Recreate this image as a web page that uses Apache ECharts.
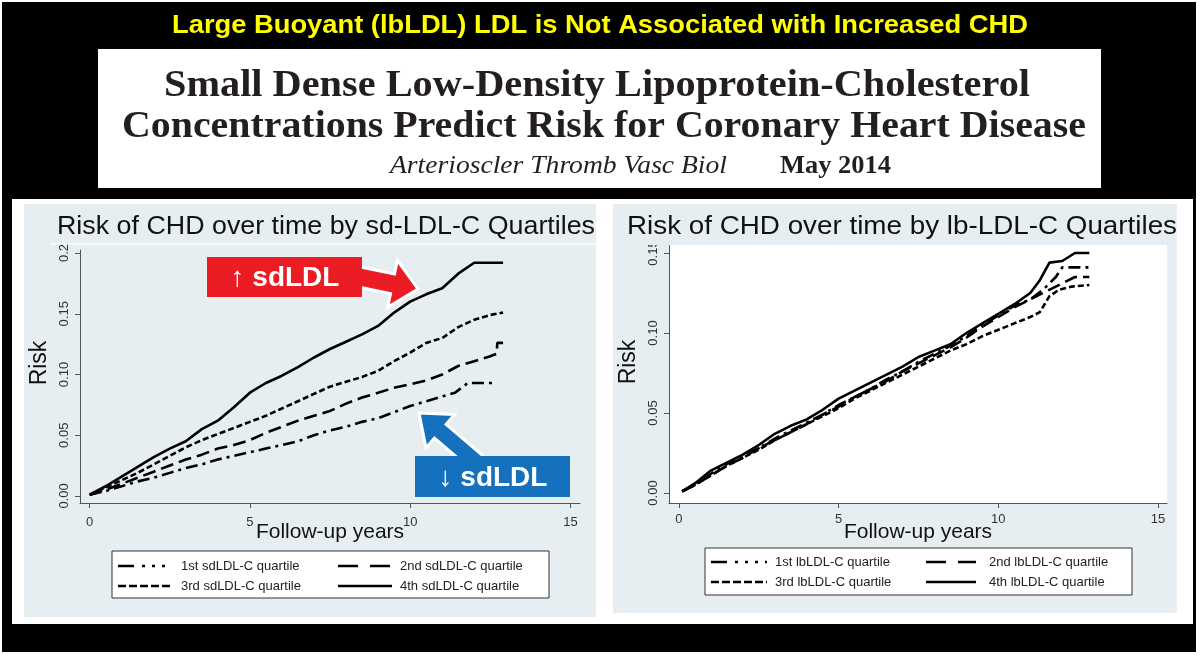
<!DOCTYPE html>
<html>
<head>
<meta charset="utf-8">
<script src="https://cdn.jsdelivr.net/npm/echarts@6/dist/echarts.min.js"></script>
<style>
html,body{margin:0;padding:0;background:#fff;}
#chart{width:1200px;height:657px;}
</style>
</head>
<body>
<div id="chart"></div>
<script>
// ---- data ----
const yearTicks = [0, 5, 10, 15];

const sdRiskTicks = [0, 0.05, 0.1, 0.15, 0.2];
const sdRiskLabels = ['0.00', '0.05', '0.10', '0.15', '0.2'];
const lbRiskTicks = [0, 0.05, 0.1, 0.15];
const lbRiskLabels = ['0.00', '0.05', '0.10', '0.15'];

const sdLegend = ['1st sdLDL-C quartile', '2nd sdLDL-C quartile', '3rd sdLDL-C quartile', '4th sdLDL-C quartile'];
const lbLegend = ['1st lbLDL-C quartile', '2nd lbLDL-C quartile', '3rd lbLDL-C quartile', '4th lbLDL-C quartile'];

// sd-LDL-C quartiles
const sdYears1 = [0, 0.5, 1, 1.5, 2, 2.5, 3, 3.5, 4, 4.5, 5, 5.5, 6, 6.5, 7, 7.5, 8, 8.5, 9, 9.5, 10, 10.5, 11, 11.4, 11.8, 12.6];
const sdRisk1 = [0.001, 0.004, 0.008, 0.012, 0.015, 0.019, 0.023, 0.026, 0.030, 0.033, 0.036, 0.039, 0.042, 0.045, 0.050, 0.054, 0.057, 0.061, 0.064, 0.069, 0.074, 0.078, 0.082, 0.085, 0.093, 0.093];
const sdYears2 = [0, 0.5, 1, 1.5, 2, 2.5, 3, 3.5, 4, 4.5, 5, 5.5, 6, 6.5, 7, 7.5, 8, 8.5, 9, 9.5, 10, 10.5, 11, 11.5, 12, 12.5, 12.7, 12.72, 12.9];
const sdRisk2 = [0.001, 0.005, 0.010, 0.015, 0.020, 0.025, 0.030, 0.034, 0.039, 0.042, 0.046, 0.052, 0.057, 0.062, 0.066, 0.070, 0.076, 0.081, 0.085, 0.089, 0.092, 0.095, 0.100, 0.107, 0.111, 0.115, 0.117, 0.126, 0.126];
const sdYears3 = [0, 0.5, 1, 1.5, 2, 2.5, 3, 3.5, 4, 4.5, 5, 5.5, 6, 6.5, 7, 7.5, 8, 8.5, 9, 9.5, 10, 10.5, 11, 11.5, 12, 12.5, 12.9];
const sdRisk3 = [0.001, 0.007, 0.013, 0.019, 0.026, 0.033, 0.040, 0.046, 0.051, 0.056, 0.061, 0.066, 0.072, 0.078, 0.084, 0.090, 0.094, 0.098, 0.103, 0.111, 0.118, 0.126, 0.130, 0.139, 0.145, 0.149, 0.151];
const sdYears4 = [0, 0.5, 1, 1.5, 2, 2.5, 3, 3.5, 4, 4.5, 5, 5.5, 6, 6.5, 7, 7.5, 8, 8.5, 9, 9.5, 10, 10.5, 11, 11.5, 12, 12.9];
const sdRisk4 = [0.001, 0.008, 0.016, 0.024, 0.032, 0.039, 0.045, 0.055, 0.062, 0.073, 0.085, 0.093, 0.099, 0.106, 0.114, 0.121, 0.127, 0.133, 0.140, 0.151, 0.160, 0.166, 0.171, 0.183, 0.192, 0.192];

// lb-LDL-C quartiles
const lbYears1 = [0.1, 0.5, 1, 1.5, 2, 2.5, 3, 3.5, 4, 4.5, 5, 5.5, 6, 6.5, 7, 7.5, 8, 8.5, 9, 9.5, 10, 10.5, 11, 11.4, 11.8, 12, 12.85];
const lbRisk1 = [0.001, 0.005, 0.012, 0.018, 0.023, 0.028, 0.034, 0.039, 0.044, 0.049, 0.055, 0.060, 0.065, 0.071, 0.076, 0.082, 0.087, 0.092, 0.098, 0.105, 0.111, 0.117, 0.121, 0.127, 0.135, 0.141, 0.141];
const lbYears2 = [0.1, 0.5, 1, 1.5, 2, 2.5, 3, 3.5, 4, 4.5, 5, 5.5, 6, 6.5, 7, 7.5, 8, 8.5, 9, 9.5, 10, 10.5, 11, 11.5, 12, 12.4, 12.85];
const lbRisk2 = [0.001, 0.005, 0.011, 0.017, 0.022, 0.028, 0.033, 0.038, 0.043, 0.049, 0.054, 0.060, 0.065, 0.070, 0.076, 0.081, 0.086, 0.091, 0.097, 0.104, 0.110, 0.116, 0.121, 0.126, 0.131, 0.135, 0.135];
const lbYears3 = [0.1, 0.5, 1, 1.5, 2, 2.5, 3, 3.5, 4, 4.5, 5, 5.5, 6, 6.5, 7, 7.5, 8, 8.5, 9, 9.5, 10, 10.5, 11, 11.3, 11.6, 11.9, 12.3, 12.85];
const lbRisk3 = [0.001, 0.005, 0.011, 0.017, 0.022, 0.027, 0.033, 0.038, 0.043, 0.048, 0.053, 0.059, 0.064, 0.069, 0.074, 0.079, 0.084, 0.089, 0.093, 0.098, 0.102, 0.106, 0.110, 0.113, 0.123, 0.127, 0.129, 0.130];
const lbYears4 = [0.1, 0.5, 1, 1.5, 2, 2.5, 3, 3.5, 4, 4.5, 5, 5.5, 6, 6.5, 7, 7.5, 8, 8.5, 9, 9.5, 10, 10.5, 11, 11.3, 11.6, 12, 12.4, 12.85];
const lbRisk4 = [0.001, 0.006, 0.014, 0.019, 0.024, 0.030, 0.037, 0.042, 0.046, 0.052, 0.059, 0.064, 0.069, 0.074, 0.079, 0.085, 0.089, 0.093, 0.100, 0.106, 0.112, 0.118, 0.125, 0.133, 0.144, 0.145, 0.150, 0.150];

const sans = "'Liberation Sans', Arial, sans-serif";
const serif = "'Liberation Serif', 'Times New Roman', serif";
const panelBg = '#e7eef1';

// dash patterns: 1st dash-dot, 2nd long dash, 3rd short dash, 4th solid
const plotDash = [[12, 5, 3, 5], [13, 6], [6, 3], 'solid'];
const keyDash = [[16, 8, 3, 7, 3, 7, 3, 7], [20, 12], [8, 3], null];

const ctx = document.createElement('canvas').getContext('2d');
function fitScale(text, font, target) {
    ctx.font = font;
    return target / ctx.measureText(text).width;
}
function pairs(xs, ys) {
    return xs.map((x, i) => [x, ys[i]]);
}
function lineSeries(name, xs, ys, idx, dash) {
    return {
        name: name, type: 'line', xAxisIndex: idx, yAxisIndex: idx,
        data: pairs(xs, ys), symbol: 'none', silent: true,
        lineStyle: { color: '#000', width: 2.6, type: dash }
    };
}
function xAxisCfg(idx, min, max, margin) {
    return {
        type: 'value', gridIndex: idx, min: min, max: max,
        axisLine: { show: true, onZero: false, lineStyle: { color: '#555', width: 1 } },
        axisTick: { show: true, length: 5, lineStyle: { color: '#555' }, customValues: yearTicks },
        axisLabel: { customValues: yearTicks, margin: margin, fontSize: 13, color: '#333', fontFamily: sans },
        splitLine: { show: false },
        name: 'Follow-up years', nameLocation: 'middle', nameGap: 19, nameMoveOverlap: false,
        nameTextStyle: { fontSize: 21, color: '#111', fontFamily: sans }
    };
}
function yAxisCfg(idx, min, max, ticks, labels) {
    return {
        type: 'value', gridIndex: idx, min: min, max: max,
        axisLine: { show: true, onZero: false, lineStyle: { color: '#555', width: 1 } },
        axisTick: { show: true, length: 5, lineStyle: { color: '#555' }, customValues: ticks },
        axisLabel: {
            customValues: ticks, rotate: 90, margin: 9, fontSize: 13, color: '#333', fontFamily: sans,
            formatter: v => labels[ticks.findIndex(t => Math.abs(t - v) < 1e-9)]
        },
        splitLine: { show: false }
    };
}
function arrowPts(x1, y1, x2, y2, sw, hw, hl) {
    const dx = x2 - x1, dy = y2 - y1, L = Math.hypot(dx, dy);
    const ux = dx / L, uy = dy / L, nx = -uy, ny = ux;
    const bx = x2 - ux * hl, by = y2 - uy * hl;
    return [[x1 + nx * sw, y1 + ny * sw], [bx + nx * sw, by + ny * sw], [bx + nx * hw, by + ny * hw],
        [x2, y2], [bx - nx * hw, by - ny * hw], [bx - nx * sw, by - ny * sw], [x1 - nx * sw, y1 - ny * sw]];
}
function fitText(text, x, y, size, weight, style, family, color, target, align) {
    const font = style + ' ' + weight + ' ' + size + 'px ' + family;
    return {
        type: 'text', x: x, y: y, z: 120, scaleX: fitScale(text, font, target), silent: true,
        style: { text: text, fontSize: size, fontWeight: weight, fontStyle: style, fontFamily: family,
            fill: color, align: align || 'center', verticalAlign: 'middle' }
    };
}
function keyBox(x1, y1, x2, y2, rows, cols, textX, labels) {
    const out = [{ type: 'rect', z: 120, shape: { x: x1, y: y1, width: x2 - x1, height: y2 - y1 },
        style: { fill: '#fff', stroke: '#333', lineWidth: 1 } }];
    labels.forEach((lab, i) => {
        const r = Math.floor(i / 2), c = i % 2;
        const ls = { stroke: '#000', lineWidth: 2.6 };
        if (keyDash[i]) ls.lineDash = keyDash[i];
        out.push({ type: 'line', z: 121, shape: { x1: cols[c][0], y1: rows[r], x2: cols[c][1], y2: rows[r] }, style: ls });
        out.push({ type: 'text', z: 121, x: textX[c], y: rows[r],
            style: { text: lab, fontSize: 13, fontFamily: sans, fill: '#222', verticalAlign: 'middle' } });
    });
    return out;
}

const chart = echarts.init(document.getElementById('chart'));

const graphics = [
    // frame
    { type: 'rect', z: -20, shape: { x: 2, y: 2, width: 1194, height: 650 }, style: { fill: '#000' } },
    { type: 'rect', z: -19, shape: { x: 98, y: 49, width: 1003, height: 139 }, style: { fill: '#fff' } },
    { type: 'rect', z: -19, shape: { x: 12, y: 199, width: 1181, height: 425 }, style: { fill: '#fff' } },
    { type: 'rect', z: -18, shape: { x: 24, y: 204, width: 572, height: 413 }, style: { fill: panelBg } },
    { type: 'rect', z: -18, shape: { x: 613, y: 204, width: 564, height: 409 }, style: { fill: panelBg } },
    { type: 'line', z: -17, shape: { x1: 50, y1: 244, x2: 596, y2: 244 }, style: { stroke: '#fbfdfd', lineWidth: 1.5 } },
    // mask clipping the top tick label of the right panel
    { type: 'rect', z: 110, shape: { x: 613, y: 204, width: 564, height: 41 }, style: { fill: panelBg } },

    fitText('Large Buoyant (lbLDL) LDL is Not Associated with Increased CHD', 600, 26, 25, 'bold', 'normal', sans, '#ffff00', 856),
    fitText('Small Dense Low-Density Lipoprotein-Cholesterol', 597, 86, 38, 'bold', 'normal', serif, '#231f20', 866),
    fitText('Concentrations Predict Risk for Coronary Heart Disease', 604, 127, 38, 'bold', 'normal', serif, '#231f20', 964),
    fitText('Arterioscler Thromb Vasc Biol', 390, 166, 26, 'normal', 'italic', serif, '#231f20', 337, 'left'),
    fitText('May 2014', 780, 166, 26, 'bold', 'normal', serif, '#231f20', 111, 'left'),

    fitText('Risk of CHD over time by sd-LDL-C Quartiles', 57, 227, 26, 'normal', 'normal', sans, '#111', 538, 'left'),
    fitText('Risk of CHD over time by lb-LDL-C Quartiles', 627, 227, 26, 'normal', 'normal', sans, '#111', 550, 'left'),

    { type: 'text', z: 120, x: 40, y: 363, rotation: Math.PI / 2,
        style: { text: 'Risk', fontSize: 23, fontFamily: sans, fill: '#111', align: 'center', verticalAlign: 'middle' } },
    { type: 'text', z: 120, x: 629, y: 362, rotation: Math.PI / 2,
        style: { text: 'Risk', fontSize: 23, fontFamily: sans, fill: '#111', align: 'center', verticalAlign: 'middle' } },

    // annotations
    { type: 'polygon', z: 130, shape: { points: arrowPts(345, 274, 418, 289, 10, 24, 26) },
        style: { fill: '#ec1c24', stroke: '#fff', lineWidth: 3, lineJoin: 'miter' } },
    { type: 'rect', z: 131, shape: { x: 207, y: 257, width: 155, height: 40 }, style: { fill: '#ec1c24' } },
    { type: 'text', z: 132, x: 285, y: 278,
        style: { text: '↑ sdLDL', fontSize: 28, fontWeight: 'bold', fontFamily: sans, fill: '#fff', align: 'center', verticalAlign: 'middle' } },
    { type: 'polygon', z: 130, shape: { points: arrowPts(488, 472, 419, 413, 9, 22, 28) },
        style: { fill: '#1570be', stroke: '#fff', lineWidth: 3, lineJoin: 'miter' } },
    { type: 'rect', z: 131, shape: { x: 415, y: 456, width: 155, height: 41 }, style: { fill: '#1570be' } },
    { type: 'text', z: 132, x: 493, y: 478,
        style: { text: '↓ sdLDL', fontSize: 28, fontWeight: 'bold', fontFamily: sans, fill: '#fff', align: 'center', verticalAlign: 'middle' } }
].concat(
    keyBox(112, 551, 549, 598, [566, 586], [[118, 172], [338, 392]], [181, 400], sdLegend),
    keyBox(705, 548, 1132, 595, [562, 582], [[711, 767], [926, 976]], [775, 989], lbLegend)
);

chart.setOption({
    animation: false,
    grid: [
        { left: 80, right: 620, top: 250, bottom: 154, show: false },
        { left: 669, right: 33, top: 245, bottom: 154, show: true, backgroundColor: '#fff', borderWidth: 0 }
    ],
    xAxis: [
        xAxisCfg(0, -0.3, 15.3, 13),
        xAxisCfg(1, -0.31, 15.28, 10)
    ],
    yAxis: [
        yAxisCfg(0, -0.0058, 0.2025, sdRiskTicks, sdRiskLabels),
        yAxisCfg(1, -0.00625, 0.155, lbRiskTicks, lbRiskLabels)
    ],
    series: [
        lineSeries(sdLegend[0], sdYears1, sdRisk1, 0, plotDash[0]),
        lineSeries(sdLegend[1], sdYears2, sdRisk2, 0, plotDash[1]),
        lineSeries(sdLegend[2], sdYears3, sdRisk3, 0, plotDash[2]),
        lineSeries(sdLegend[3], sdYears4, sdRisk4, 0, plotDash[3]),
        lineSeries(lbLegend[0], lbYears1, lbRisk1, 1, plotDash[0]),
        lineSeries(lbLegend[1], lbYears2, lbRisk2, 1, plotDash[1]),
        lineSeries(lbLegend[2], lbYears3, lbRisk3, 1, plotDash[2]),
        lineSeries(lbLegend[3], lbYears4, lbRisk4, 1, plotDash[3])
    ],
    graphic: { elements: graphics }
});
</script>
</body>
</html>
